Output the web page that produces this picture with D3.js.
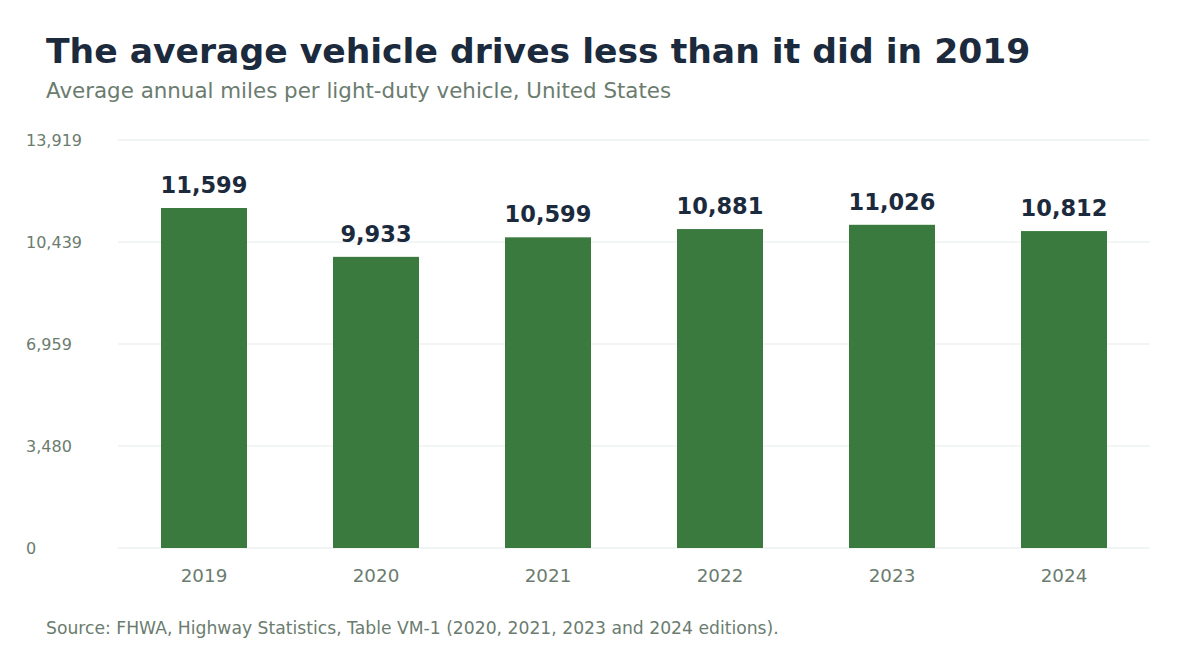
<!DOCTYPE html>
<html>
<head>
<meta charset="utf-8">
<script src="https://cdn.jsdelivr.net/npm/d3@7"></script>
<style>
  body { margin: 0; background: #ffffff; }
  #chart text { font-family: "DejaVu Sans", sans-serif; }
</style>
</head>
<body>
<div id="chart"></div>
<script>
const years = ["2019", "2020", "2021", "2022", "2023", "2024"];
const miles = [11599, 9933, 10599, 10881, 11026, 10812];
const yMax = 13919;
const yTicks = [0, 3480, 6959, 10439, 13919];

const config = {
  width: 1200,
  height: 660,
  margin: { top: 140, right: 50, bottom: 112, left: 118 },
  barColour: "#3b7a3f",
  titleColour: "#1b2a3c",
  mutedColour: "#6b7c6f",
  gridColour: "#e4ebeb"
};

function draw() {
  const { width, height, margin } = config;

  const svg = d3.select("#chart")
    .append("svg")
    .attr("width", width)
    .attr("height", height);

  // headings
  svg.append("text")
    .attr("x", 46)
    .attr("y", 63)
    .attr("font-size", 34.6)
    .attr("font-weight", "bold")
    .attr("fill", config.titleColour)
    .text("The average vehicle drives less than it did in 2019");

  svg.append("text")
    .attr("x", 46)
    .attr("y", 98)
    .attr("font-size", 21.4)
    .attr("fill", config.mutedColour)
    .text("Average annual miles per light-duty vehicle, United States");

  const x = d3.scaleBand()
    .domain(years)
    .range([margin.left, width - margin.right])
    .paddingInner(0.5)
    .paddingOuter(0.25);

  const y = d3.scaleLinear()
    .domain([0, yMax])
    .range([height - margin.bottom, margin.top]);

  // gridlines
  svg.append("g")
    .selectAll("line")
    .data(yTicks)
    .enter()
    .append("line")
    .attr("x1", margin.left)
    .attr("x2", width - margin.right)
    .attr("y1", d => y(d))
    .attr("y2", d => y(d))
    .attr("stroke", config.gridColour)
    .attr("stroke-width", 1);

  // y tick labels
  svg.append("g")
    .selectAll("text")
    .data(yTicks)
    .enter()
    .append("text")
    .attr("x", 26)
    .attr("y", d => y(d))
    .attr("dy", "0.35em")
    .attr("font-size", 16)
    .attr("fill", config.mutedColour)
    .text(d => d3.format(",")(d));

  // bars
  svg.append("g")
    .selectAll("rect")
    .data(miles)
    .enter()
    .append("rect")
    .attr("x", (d, i) => x(years[i]))
    .attr("y", d => y(d))
    .attr("width", x.bandwidth())
    .attr("height", d => y(0) - y(d))
    .attr("fill", config.barColour);

  // value labels
  svg.append("g")
    .selectAll("text")
    .data(miles)
    .enter()
    .append("text")
    .attr("x", (d, i) => x(years[i]) + x.bandwidth() / 2)
    .attr("y", d => y(d) - 15)
    .attr("text-anchor", "middle")
    .attr("font-size", 22.5)
    .attr("font-weight", "bold")
    .attr("fill", config.titleColour)
    .text(d => d3.format(",")(d));

  // x labels
  svg.append("g")
    .selectAll("text")
    .data(years)
    .enter()
    .append("text")
    .attr("x", d => x(d) + x.bandwidth() / 2)
    .attr("y", 582)
    .attr("text-anchor", "middle")
    .attr("font-size", 18.3)
    .attr("fill", config.mutedColour)
    .text(d => d);

  svg.append("text")
    .attr("x", 46)
    .attr("y", 634)
    .attr("font-size", 17.2)
    .attr("fill", config.mutedColour)
    .text("Source: FHWA, Highway Statistics, Table VM-1 (2020, 2021, 2023 and 2024 editions).");
}

window.onload = function () {
  draw();
};
</script>
</body>
</html>
